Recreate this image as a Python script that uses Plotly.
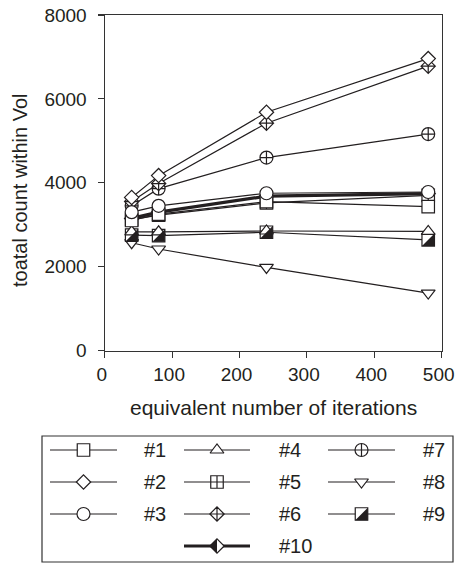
import plotly.graph_objects as go

# ---------------- data ----------------
iterations = [40, 80, 240, 480]
series_names = ["#1", "#2", "#3", "#4", "#5", "#6", "#7", "#8", "#9", "#10"]
count_1 = [3100, 3250, 3550, 3430]
count_2 = [3650, 4170, 5680, 6960]
count_3 = [3300, 3450, 3750, 3780]
count_4 = [2830, 2830, 2850, 2840]
count_5 = [3120, 3230, 3520, 3700]
count_6 = [3550, 3980, 5420, 6780]
count_7 = [3450, 3860, 4600, 5160]
count_8 = [2570, 2420, 1980, 1370]
count_9 = [2750, 2740, 2820, 2640]
count_10 = [3150, 3300, 3680, 3740]
x_ticks = [0, 100, 200, 300, 400, 500]
y_ticks = [0, 2000, 4000, 6000, 8000]

values = {
    "#1": count_1, "#2": count_2, "#3": count_3, "#4": count_4, "#5": count_5,
    "#6": count_6, "#7": count_7, "#8": count_8, "#9": count_9, "#10": count_10,
}

# ---------------- styles ----------------
INK = "#231f20"
FONT = "Liberation Sans, Arial, sans-serif"
FS = 20
TICK_FS = 19
W, H = 456, 564

style = {
    "#1": dict(symbol="square", size=12.5, width=1.2),
    "#2": dict(symbol="diamond", size=11, width=1.2),
    "#3": dict(symbol="circle", size=13, width=1.2),
    "#4": dict(symbol="triangle-up", size=12, width=1.2),
    "#5": dict(symbol="square-cross", size=12.5, width=1.2),
    "#6": dict(symbol="diamond-cross", size=11, width=1.2),
    "#7": dict(symbol="circle-cross", size=13, width=1.2),
    "#8": dict(symbol="triangle-down", size=12, width=1.2),
    "#9": dict(symbol="square", size=12.5, width=1.2),
    "#10": dict(symbol="diamond", size=11, width=3.2),
}
draw_order = ["#10", "#8", "#9", "#4", "#5", "#1", "#7", "#6", "#2", "#3"]

fig = go.Figure()
shapes = []


def half_square(xref, yref, xa, ya, h):
    return dict(type="path", xref=xref, yref=yref, xsizemode="pixel", ysizemode="pixel",
                xanchor=xa, yanchor=ya,
                path=f"M {-h} {-h} L {h} {-h} L {h} {h} Z",
                fillcolor=INK, line=dict(width=0), layer="above")


def half_diamond(xref, yref, xa, ya, h):
    return dict(type="path", xref=xref, yref=yref, xsizemode="pixel", ysizemode="pixel",
                xanchor=xa, yanchor=ya,
                path=f"M {-h} 0 L 0 {h} L 0 {-h} Z",
                fillcolor=INK, line=dict(width=0), layer="above")


for name in draw_order:
    st = style[name]
    fig.add_trace(go.Scatter(
        x=iterations, y=values[name], mode="lines+markers", name=name,
        line=dict(color=INK, width=st["width"]),
        marker=dict(symbol=st["symbol"], size=st["size"], color="white",
                    line=dict(color=INK, width=1.2)),
        showlegend=False, xaxis="x", yaxis="y", cliponaxis=False,
    ))
    if name == "#9":
        for xv, yv in zip(iterations, values[name]):
            shapes.append(half_square("x", "y", xv, yv, 6.25))

# ---------------- hand-made legend (pixel overlay axes) ----------------
col_line = [(50, 117), (184, 250), (328, 395)]
col_text = [142, 277, 421]
row_y = [450, 482, 514, 546]
legend_pos = {
    "#1": (0, 0), "#2": (0, 1), "#3": (0, 2),
    "#4": (1, 0), "#5": (1, 1), "#6": (1, 2),
    "#7": (2, 0), "#8": (2, 1), "#9": (2, 2),
    "#10": (1, 3),
}
annotations = []
for name in series_names:
    c, r = legend_pos[name]
    st = style[name]
    x0, x1 = col_line[c]
    xm = (x0 + x1) / 2
    yy = row_y[r]
    fig.add_trace(go.Scatter(x=[x0, x1], y=[yy, yy], mode="lines",
                             line=dict(color=INK, width=st["width"]),
                             showlegend=False, xaxis="x2", yaxis="y2", hoverinfo="skip"))
    fig.add_trace(go.Scatter(x=[xm], y=[yy], mode="markers",
                             marker=dict(symbol=st["symbol"], size=st["size"], color="white",
                                         line=dict(color=INK, width=1.2)),
                             showlegend=False, xaxis="x2", yaxis="y2", hoverinfo="skip"))
    if name == "#9":
        shapes.append(half_square("x2", "y2", xm, yy, 6.25))
    if name == "#10":
        shapes.append(half_diamond("x2", "y2", xm, yy, 7.15))
    annotations.append(dict(x=col_text[c], y=yy, xref="x2", yref="y2", text=name,
                            showarrow=False, xanchor="left", yanchor="middle",
                            font=dict(family=FONT, size=FS, color=INK)))

shapes.append(dict(type="rect", xref="x2", yref="y2", x0=42, x1=453, y0=436, y1=562,
                   line=dict(color="#333333", width=1.2), fillcolor="rgba(0,0,0,0)",
                   layer="below"))

# axis titles
annotations.append(dict(x=273.2 / W, y=(H - 408) / H, xref="paper", yref="paper",
                        text="equivalent number of iterations", showarrow=False,
                        xanchor="center", yanchor="middle",
                        font=dict(family=FONT, size=FS + 1, color=INK)))
annotations.append(dict(x=20 / W, y=(H - 191) / H, xref="paper", yref="paper",
                        text="toatal count within Vol", showarrow=False, textangle=-90,
                        xanchor="center", yanchor="middle",
                        font=dict(family=FONT, size=FS, color=INK)))

axis_common = dict(showgrid=False, zeroline=False, showline=True, linecolor="#333333",
                   linewidth=1.2, mirror=True, ticks="outside", ticklen=6, tickwidth=1.2,
                   tickcolor="#333333", tickfont=dict(family=FONT, size=TICK_FS, color=INK),
                   automargin=False, ticklabeloverflow="allow")

fig.update_layout(
    template="none",
    width=W, height=H,
    margin=dict(l=0, r=0, t=0, b=0, pad=0),
    paper_bgcolor="white", plot_bgcolor="rgba(0,0,0,0)",
    showlegend=False,
    xaxis=dict(domain=[104.7 / W, 441.7 / W], range=[0, 500], tickvals=x_ticks,
               anchor="y", ticklabelshift=-3, **axis_common),
    yaxis=dict(domain=[(H - 350.5) / H, (H - 15) / H], range=[0, 8000], tickvals=y_ticks,
               anchor="x", ticklabelstandoff=7, **axis_common),
    xaxis2=dict(domain=[0, 1], range=[0, W], visible=False, anchor="y2", fixedrange=True,
                automargin=False),
    yaxis2=dict(domain=[0, 1], range=[H, 0], visible=False, anchor="x2", fixedrange=True,
                automargin=False),
    shapes=shapes,
    annotations=annotations,
)

fig.write_html("out.html", config={"displayModeBar": False, "staticPlot": True},
               post_script="document.body.style.margin='0';document.body.style.overflow='hidden';")
